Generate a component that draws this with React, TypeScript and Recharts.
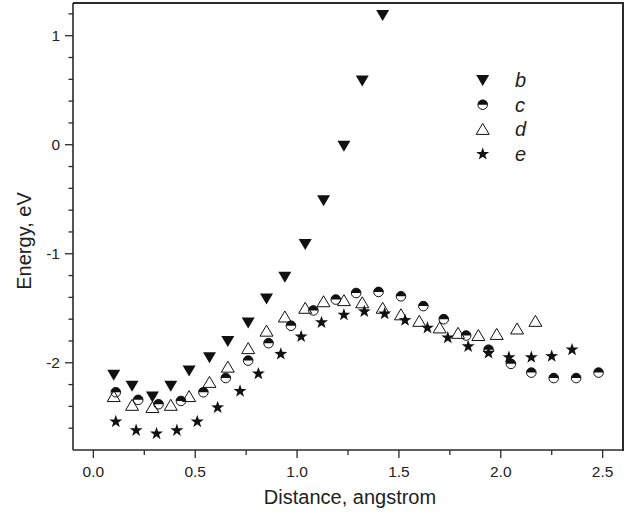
import { ScatterChart, Scatter, XAxis, YAxis, Legend } from "recharts";

// series b (filled down triangles)
const bX = [0.10, 0.19, 0.29, 0.38, 0.47, 0.57, 0.66, 0.76, 0.85, 0.94, 1.04, 1.13, 1.23, 1.32, 1.42];
const bY = [-2.11, -2.21, -2.31, -2.21, -2.07, -1.95, -1.80, -1.63, -1.41, -1.21, -0.91, -0.51, -0.01, 0.59, 1.19];

// series c (half-filled circles)
const cX = [0.11, 0.22, 0.32, 0.43, 0.54, 0.65, 0.76, 0.86, 0.97, 1.08, 1.19, 1.29, 1.40, 1.51, 1.62, 1.72, 1.83, 1.94, 2.05, 2.15, 2.26, 2.37, 2.48];
const cY = [-2.27, -2.34, -2.38, -2.35, -2.27, -2.14, -1.98, -1.82, -1.66, -1.52, -1.42, -1.36, -1.35, -1.39, -1.48, -1.60, -1.75, -1.88, -2.01, -2.09, -2.14, -2.14, -2.09];

// series d (open triangles)
const dX = [0.10, 0.19, 0.29, 0.38, 0.47, 0.57, 0.66, 0.76, 0.85, 0.94, 1.04, 1.13, 1.23, 1.32, 1.42, 1.51, 1.60, 1.70, 1.79, 1.89, 1.98, 2.08, 2.17];
const dY = [-2.31, -2.39, -2.41, -2.39, -2.31, -2.18, -2.04, -1.87, -1.71, -1.58, -1.50, -1.44, -1.43, -1.45, -1.50, -1.56, -1.62, -1.68, -1.73, -1.75, -1.74, -1.69, -1.62];

// series e (stars)
const eX = [0.11, 0.21, 0.31, 0.41, 0.51, 0.61, 0.72, 0.81, 0.92, 1.02, 1.12, 1.23, 1.33, 1.43, 1.53, 1.64, 1.74, 1.84, 1.94, 2.04, 2.15, 2.25, 2.35];
const eY = [-2.54, -2.62, -2.65, -2.62, -2.54, -2.41, -2.26, -2.10, -1.92, -1.76, -1.63, -1.56, -1.53, -1.55, -1.61, -1.68, -1.77, -1.85, -1.91, -1.95, -1.95, -1.94, -1.88];

const xTicks = [0, 0.25, 0.5, 0.75, 1, 1.25, 1.5, 1.75, 2, 2.25, 2.5];
const xLabels = ["0.0", "0.5", "1.0", "1.5", "2.0", "2.5"];
const yTicks = [-2.6, -2.4, -2.2, -2, -1.8, -1.6, -1.4, -1.2, -1, -0.8, -0.6, -0.4, -0.2, 0, 0.2, 0.4, 0.6, 0.8, 1, 1.2];
const yLabels = ["-2", "-1", "0", "1"];

const seriesNames = ["b", "c", "d", "e"];

const toPoints = (xs: number[], ys: number[]) => xs.map((x, i) => ({ x, y: ys[i] }));

const INK = "#111";
const AXIS = "#2a2a2a";
const FONT = "'Liberation Sans', Arial, sans-serif";

const DownTri = ({ cx, cy }: any) => (
  <polygon points={`${cx - 6.5},${cy - 5} ${cx + 6.5},${cy - 5} ${cx},${cy + 6}`} fill={INK} />
);

const HalfCircle = ({ cx, cy }: any) => {
  const r = 4.8;
  return (
    <g>
      <circle cx={cx} cy={cy} r={r} fill="#fff" stroke={INK} strokeWidth={1} />
      <path d={`M${cx - r},${cy} A${r},${r} 0 0 1 ${cx + r},${cy} Z`} fill={INK} />
    </g>
  );
};

const OpenTri = ({ cx, cy }: any) => (
  <polygon
    points={`${cx - 6.5},${cy + 5} ${cx + 6.5},${cy + 5} ${cx},${cy - 6}`}
    fill="none"
    stroke={INK}
    strokeWidth={1}
  />
);

const Star = ({ cx, cy }: any) => {
  const pts: string[] = [];
  for (let k = 0; k < 10; k++) {
    const r = k % 2 === 0 ? 6.8 : 2.7;
    const a = -Math.PI / 2 + (k * Math.PI) / 5;
    pts.push(`${cx + r * Math.cos(a)},${cy + r * Math.sin(a)}`);
  }
  return <polygon points={pts.join(" ")} fill={INK} />;
};

const shapes = [DownTri, HalfCircle, OpenTri, Star];

const XTick = ({ x, y, payload }: any) => {
  const v = payload.value;
  const major = Math.abs(v * 2 - Math.round(v * 2)) < 1e-6;
  return (
    <g>
      <line x1={x} x2={x} y1={y} y2={y + (major ? 8 : 5)} stroke={AXIS} strokeWidth={1.3} />
      {major && (
        <text x={x} y={y + 26.5} textAnchor="middle" fontSize={15.5} fontFamily={FONT} fill="#222">
          {xLabels[Math.round(v * 2)]}
        </text>
      )}
    </g>
  );
};

const YTick = ({ x, y, payload }: any) => {
  const v = payload.value;
  const major = Math.abs(v - Math.round(v)) < 1e-6;
  return (
    <g>
      <line x1={x - (major ? 8 : 4.5)} x2={x} y1={y} y2={y} stroke={AXIS} strokeWidth={1.3} />
      {major && (
        <text x={x - 13} y={y + 5.5} textAnchor="end" fontSize={15.5} fontFamily={FONT} fill="#222">
          {yLabels[Math.round(v) + 2]}
        </text>
      )}
    </g>
  );
};

const renderLegend = () => (
  <svg width={80} height={105}>
    {seriesNames.map((name, i) => {
      const Shape = shapes[i];
      const cy = 14 + i * 24.7;
      return (
        <g key={name}>
          <Shape cx={12.7} cy={cy} />
          <text x={45} y={cy + 7} fontSize={20} fontStyle="italic" fontFamily={FONT} fill="#222">
            {name}
          </text>
        </g>
      );
    })}
  </svg>
);

const App = () => {
  const series = [
    toPoints(bX, bY),
    toPoints(cX, cY),
    toPoints(dX, dY),
    toPoints(eX, eY),
  ];
  return (
    <div style={{ position: "absolute", left: 0, top: 0, width: 629, height: 518, background: "#fff" }}>
      <ScatterChart width={629} height={518} margin={{ top: 3, right: 6, bottom: 0, left: 0 }}>
        <XAxis
          dataKey="x"
          type="number"
          domain={[-0.1, 2.6]}
          ticks={xTicks}
          interval={0}
          allowDataOverflow
          height={68}
          tickSize={0}
          tickMargin={0}
          tickLine={false}
          tick={<XTick />}
          axisLine={{ stroke: AXIS, strokeWidth: 1.6 }}
          label={{
            content: () => (
              <text x={350} y={504} textAnchor="middle" fontSize={20} fontFamily={FONT} fill="#222">
                Distance, angstrom
              </text>
            ),
          }}
        />
        <YAxis
          dataKey="y"
          type="number"
          domain={[-2.8, 1.3]}
          ticks={yTicks}
          interval={0}
          allowDataOverflow
          width={73}
          tickSize={0}
          tickMargin={0}
          tickLine={false}
          tick={<YTick />}
          axisLine={{ stroke: AXIS, strokeWidth: 1.6 }}
          label={{
            content: () => (
              <text
                x={24}
                y={241}
                transform="rotate(-90 24 241)"
                textAnchor="middle"
                dominantBaseline="central"
                fontSize={20}
                fontFamily={FONT}
                fill="#222"
              >
                Energy, eV
              </text>
            ),
          }}
        />
        {series.map((pts, i) => (
          <Scatter
            key={seriesNames[i]}
            name={seriesNames[i]}
            data={pts}
            shape={shapes[i]}
            isAnimationActive={false}
          />
        ))}
        <Legend
          layout="vertical"
          align="center"
          verticalAlign="middle"
          content={renderLegend}
          wrapperStyle={{ left: 470, top: 66, width: 80, height: 105 }}
        />
      </ScatterChart>
      {/* top and right edges of the plot frame */}
      <div
        style={{
          position: "absolute",
          left: 73,
          top: 2,
          width: 551,
          height: 449,
          boxSizing: "border-box",
          borderTop: `2px solid ${AXIS}`,
          borderRight: `2px solid ${AXIS}`,
          pointerEvents: "none",
          zIndex: 5,
        }}
      />
    </div>
  );
};

export default App;
